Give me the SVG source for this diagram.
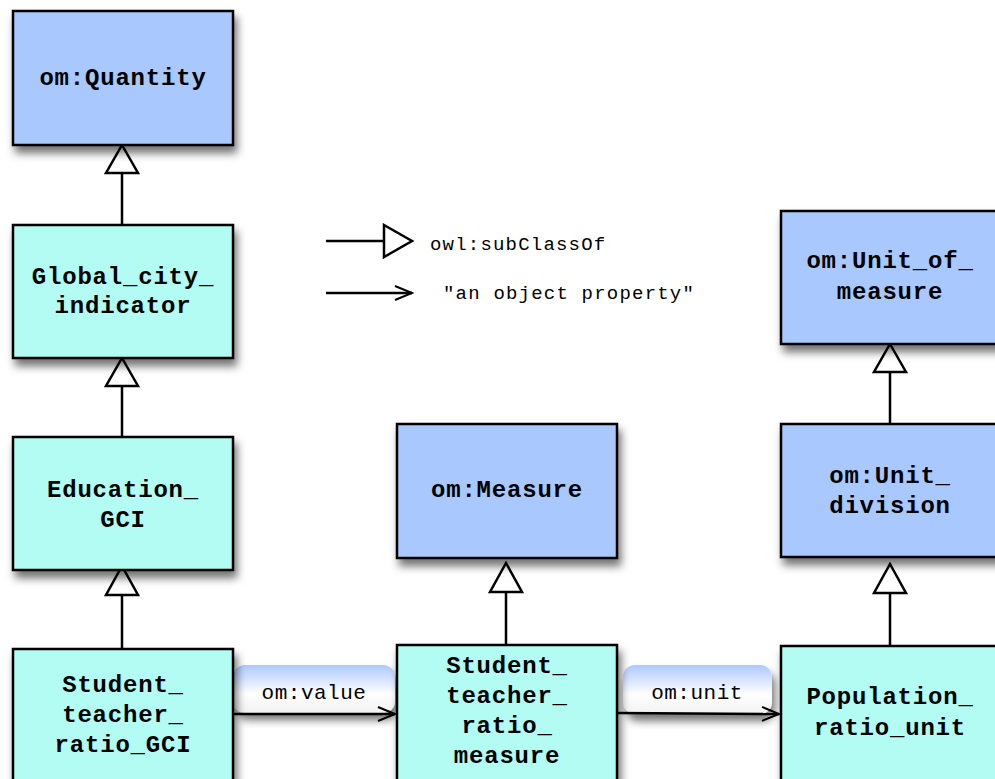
<svg xmlns="http://www.w3.org/2000/svg" width="995" height="779" viewBox="0 0 995 779">
<defs>
<filter id="sh" x="-20%" y="-20%" width="150%" height="150%">
<feDropShadow dx="3" dy="7" stdDeviation="4" flood-color="#000" flood-opacity="0.55"/>
</filter>
<linearGradient id="lg" x1="0" y1="0" x2="0" y2="1">
<stop offset="0" stop-color="#aec8ff"/>
<stop offset="0.6" stop-color="#ffffff"/>
<stop offset="1" stop-color="#f2f2f2"/>
</linearGradient>
<marker id="open" markerWidth="20" markerHeight="16" refX="18" refY="8" orient="auto" markerUnits="userSpaceOnUse">
<path d="M1,1 L18,8 L1,15" fill="none" stroke="#000" stroke-width="2"/>
</marker>
</defs>
<style>
.blue{fill:#a9c8fe;stroke:#000;stroke-width:2.5;filter:url(#sh)}
.cyan{fill:#b3fcf3;stroke:#000;stroke-width:2.5;filter:url(#sh)}
.t{font-family:"Liberation Mono","Courier New",monospace;font-weight:bold;font-size:24px;letter-spacing:0.8px;text-anchor:middle;fill:#000}
.r{font-family:"Liberation Mono","Courier New",monospace;font-size:19px;letter-spacing:1.2px;fill:#000}
.el{font-family:"Liberation Mono","Courier New",monospace;font-size:21px;letter-spacing:0.5px;text-anchor:middle;fill:#000}
.ln{stroke:#000;stroke-width:2.5;fill:none}
.tri{fill:#fff;stroke:#000;stroke-width:2.5}
.lab{fill:url(#lg);filter:url(#sh)}
</style>

<g id="connectors">
<line class="ln" x1="122" y1="173" x2="122" y2="225"/>
<polygon class="tri" points="122,145 138,173 106,173"/>
<line class="ln" x1="122" y1="386" x2="122" y2="437"/>
<polygon class="tri" points="122,358 138,386 106,386"/>
<line class="ln" x1="122" y1="595" x2="122" y2="649"/>
<polygon class="tri" points="122,566 138,595 106,595"/>
<line class="ln" x1="506" y1="592" x2="506" y2="645"/>
<polygon class="tri" points="506,563 522,592 490,592"/>
<line class="ln" x1="890" y1="372" x2="890" y2="424"/>
<polygon class="tri" points="890,344 906,372 874,372"/>
<line class="ln" x1="890" y1="593" x2="890" y2="646"/>
<polygon class="tri" points="890,564 906,593 874,593"/>

<rect class="lab" x="233" y="665" width="162" height="48" rx="12"/>
<text class="el" x="314" y="699">om:value</text>
<line class="ln" x1="233" y1="714" x2="395" y2="714" marker-end="url(#open)"/>

<rect class="lab" x="623" y="665" width="149" height="49" rx="12"/>
<text class="el" x="697" y="699">om:unit</text>
<line class="ln" x1="617" y1="713" x2="779" y2="714" marker-end="url(#open)"/>
</g>

<g id="legend">
<line class="ln" x1="326" y1="241" x2="384" y2="241"/>
<polygon class="tri" points="384,225 412,241 384,257"/>
<text class="r" x="430" y="250">owl:subClassOf</text>
<line class="ln" x1="326" y1="293" x2="412" y2="293" marker-end="url(#open)"/>
<text class="r" x="443" y="299">"an object property"</text>
</g>

<g id="quantity">
<rect class="blue" x="13" y="11" width="220" height="134"/>
<text class="t" x="123" y="85">om:Quantity</text>
</g>
<g id="global_city_indicator">
<rect class="cyan" x="13" y="225" width="220" height="133"/>
<text class="t" x="123" y="284">Global_city_</text>
<text class="t" x="123" y="313">indicator</text>
</g>
<g id="education_gci">
<rect class="cyan" x="13" y="437" width="220" height="133"/>
<text class="t" x="123" y="497">Education_</text>
<text class="t" x="123" y="527">GCI</text>
</g>
<g id="student_teacher_ratio_gci">
<rect class="cyan" x="13" y="649" width="220" height="140"/>
<text class="t" x="123" y="692">Student_</text>
<text class="t" x="123" y="722">teacher_</text>
<text class="t" x="123" y="752">ratio_GCI</text>
</g>
<g id="measure">
<rect class="blue" x="397" y="424" width="220" height="134"/>
<text class="t" x="507" y="497">om:Measure</text>
</g>
<g id="student_teacher_ratio_measure">
<rect class="cyan" x="397" y="645" width="220" height="145"/>
<text class="t" x="507" y="673">Student_</text>
<text class="t" x="507" y="703">teacher_</text>
<text class="t" x="507" y="733">ratio_</text>
<text class="t" x="507" y="763">measure</text>
</g>
<g id="unit_of_measure">
<rect class="blue" x="781" y="211" width="225" height="133"/>
<text class="t" x="890" y="268">om:Unit_of_</text>
<text class="t" x="890" y="299">measure</text>
</g>
<g id="unit_division">
<rect class="blue" x="781" y="424" width="225" height="133"/>
<text class="t" x="890" y="483">om:Unit_</text>
<text class="t" x="890" y="513">division</text>
</g>
<g id="population_ratio_unit">
<rect class="cyan" x="781" y="646" width="225" height="145"/>
<text class="t" x="890" y="704">Population_</text>
<text class="t" x="890" y="735">ratio_unit</text>
</g>
</svg>
